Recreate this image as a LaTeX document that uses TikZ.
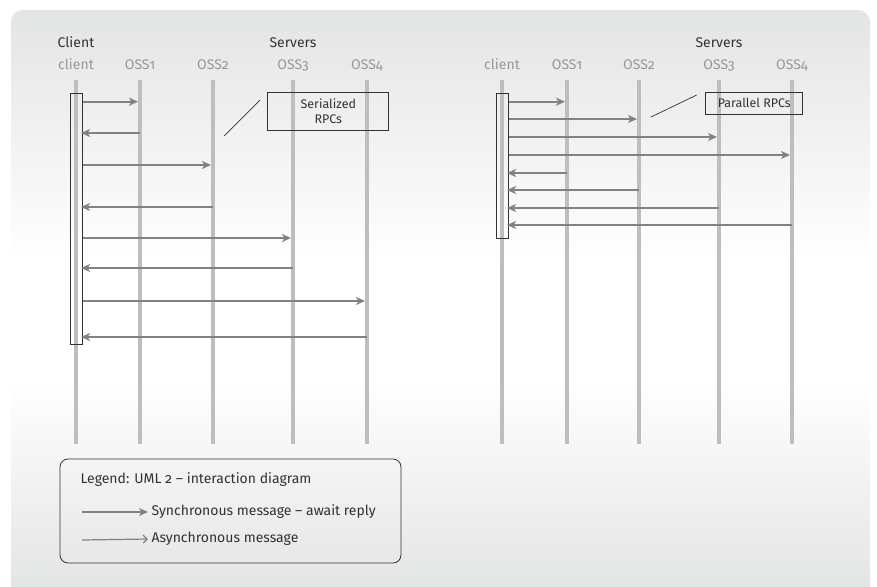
\documentclass[tikz,border=0pt]{standalone}
\usepackage{fontspec}
\setmainfont{Fira Sans}[Numbers=OldStyle]
\usetikzlibrary{arrows.meta, positioning, calc}
\definecolor{lifegray}{RGB}{188,190,192}
\definecolor{msggray}{RGB}{128,130,133}
\definecolor{labelgray}{RGB}{150,152,155}
\definecolor{panelgray}{RGB}{227,228,229}
\definecolor{inkgray}{RGB}{50,50,50}

\begin{document}
\begin{tikzpicture}[x=1pt, y=-1pt,
    font=\fontsize{14}{16}\selectfont,
    lifeline/.style={line width=4pt, lifegray},
    msg/.style={-{Stealth[length=9pt, width=8pt, inset=2.5pt]}, line width=1.6pt, msggray},
    asyncmsg/.style={-{Straight Barb[length=4pt, width=8pt]}, line width=1.2pt, msggray},
    actbox/.style={draw=inkgray, line width=0.8pt},
    note/.style={draw=inkgray, line width=0.8pt, align=center, text=inkgray,
                 font=\fontsize{12.5}{15}\selectfont},
    lbl/.style={text=labelgray, anchor=base},
    head/.style={text=inkgray, anchor=base}
]
\useasboundingbox (0,0) rectangle (877,586);

% panel
\shade[top color=panelgray, bottom color=white]
  (11,262) {[rounded corners=12pt] -- (11,10) -- (870,10)} -- (870,262) -- cycle;
\fill[white] (11,260) rectangle (870,382);
\shade[top color=white, bottom color=panelgray] (11,380) rectangle (870,590);

% left: serialized
\node[head] (hclient) at (76,48) {Client};
\node[head] (hservers) at (293,48) {Servers};
\foreach \name/\x/\txt in {lc/76/client, la/140/OSS1, lb/213/OSS2, lcc/293/OSS3, ld/367/OSS4} {
  \node[lbl] (t\name) at (\x,69) {\txt};
  \coordinate (\name) at (\x,80);
  \draw[lifeline] (\name) -- ++(0,364);
}
\node[actbox, minimum width=12pt, minimum height=251pt, inner sep=0pt] (actL) at (76.7,218.5) {};

\foreach \ll/\y in {la/101.7, lb/165, lcc/238, ld/301}
  \draw[msg] (actL.east |- 0,\y) -- ([xshift=-2pt]\ll |- 0,\y);
\foreach \ll/\y in {la/133, lb/207, lcc/268, ld/337}
  \draw[msg] (\ll |- 0,\y) -- ([xshift=-2pt]actL.east |- 0,\y);

\node[note, minimum width=121pt, minimum height=38pt, inner sep=0pt] (noteS) at (328.3,111) {Serialized\\RPCs};
\draw[inkgray, line width=0.7pt] (224,136) -- (260,100);

% right: parallel
\node[head] (hservers2) at (719,48) {Servers};
\foreach \name/\x/\txt in {rc/502/client, ra/567/OSS1, rb/639/OSS2, rcc/719/OSS3, rd/792/OSS4} {
  \node[lbl] (t\name) at (\x,69) {\txt};
  \coordinate (\name) at (\x,80);
  \draw[lifeline] (\name) -- ++(0,364);
}
\node[actbox, minimum width=12pt, minimum height=145pt, inner sep=0pt] (actR) at (502.7,165.5) {};

\foreach \ll/\y in {ra/101.7, rb/119, rcc/137, rd/155}
  \draw[msg] (actR.east |- 0,\y) -- ([xshift=-2pt]\ll |- 0,\y);
\foreach \ll/\y in {ra/173, rb/190, rcc/208, rd/225}
  \draw[msg] (\ll |- 0,\y) -- ([xshift=-2pt]actR.east |- 0,\y);

\node[note, minimum width=97pt, minimum height=22pt, inner sep=0pt] (noteP) at (754.3,103) {Parallel RPCs};
\draw[inkgray, line width=0.7pt] (651,117) -- (696.7,95);

% legend
\node[draw=inkgray, line width=0.8pt, rounded corners=8pt, minimum width=341pt, minimum height=104pt] (legend) at (230.5,511) {};
\node[anchor=base west, text=inkgray] (legtitle) at (77,483) {Legend: UML 2 – interaction diagram};
\node[anchor=west, text=inkgray] (legsync) at (148,512) {Synchronous message – await reply};
\node[anchor=west, text=inkgray] (legasync) at (148,539) {Asynchronous message};
\draw[msg, line width=1.2pt] (82,512) -- (legsync.west);
\draw[asyncmsg] (82,540) -- (legasync.west);
\end{tikzpicture}
\end{document}
